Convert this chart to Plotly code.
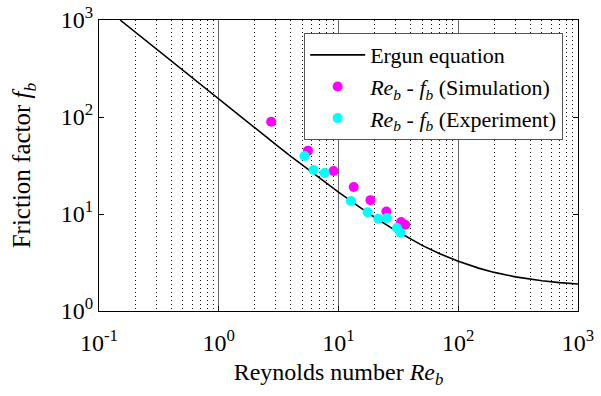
import plotly.graph_objects as go

# Ergun equation curve
ergun_re = [0.15, 0.2, 0.3, 0.4, 0.5, 0.7, 1, 1.5, 2, 3, 4, 5, 7, 10, 15, 20, 30, 40, 50, 70,
            100, 150, 200, 300, 400, 500, 700, 1000]
ergun_f = [1000, 752, 502, 377, 302, 216, 152, 102, 77, 52, 39.3, 31.8, 23.2, 16.8, 11.8, 9.25,
           6.75, 5.5, 4.75, 3.9, 3.25, 2.75, 2.5, 2.25, 2.13, 2.05, 1.96, 1.9]

# Simulation points
sim_re = [2.74, 5.56, 9.1, 13.4, 18.5, 25.1, 33.3, 36.0]
sim_f = [89.5, 45.0, 27.7, 19.0, 13.9, 10.6, 8.27, 7.76]

# Experiment points
exp_re = [5.21, 6.19, 7.65, 12.7, 17.5, 21.5, 25.4, 30.8, 32.9]
exp_f = [39.6, 28.4, 26.5, 13.6, 10.4, 8.95, 9.1, 7.17, 6.41]

tick_vals = [0.1, 1, 10, 100, 1000]
x_tick_text = ["10<sup>-1</sup>", "10<sup>0</sup>", "10<sup>1</sup>", "10<sup>2</sup>", "10<sup>3</sup>"]
y_tick_vals = [1, 10, 100, 1000]
y_tick_text = ["10<sup>0</sup>", "10<sup>1</sup>", "10<sup>2</sup>", "10<sup>3</sup>"]
minor_vals = [m * 10 ** e for e in (-1, 0, 1, 2) for m in range(2, 10)]

FONT = "Liberation Serif, Times New Roman, serif"

fig = go.Figure()
fig.add_trace(go.Scatter(x=ergun_re, y=ergun_f, mode="lines", line=dict(color="black", width=1.6),
                         name="Ergun equation"))
fig.add_trace(go.Scatter(x=sim_re, y=sim_f, mode="markers",
                         marker=dict(color="#ff00ff", size=10),
                         name="<i>Re<sub>b</sub></i> - <i>f<sub>b</sub></i> (Simulation)"))
fig.add_trace(go.Scatter(x=exp_re, y=exp_f, mode="markers",
                         marker=dict(color="#00ffff", size=10),
                         name="<i>Re<sub>b</sub></i> - <i>f<sub>b</sub></i> (Experiment)"))

fig.update_layout(
    width=601, height=396,
    margin=dict(l=99, r=23, t=20, b=85),
    paper_bgcolor="white", plot_bgcolor="white",
    font=dict(family=FONT, size=24, color="black"),
    showlegend=True,
    legend=dict(x=0.969, y=0.955, xanchor="right", yanchor="top",
                bgcolor="white", bordercolor="#555", borderwidth=1,
                font=dict(family=FONT, size=22), itemwidth=55,
                tracegroupgap=0),
)
fig.update_xaxes(
    type="log", range=[-1, 3], automargin=False,
    tickvals=tick_vals, ticktext=x_tick_text, tickfont=dict(size=24),
    ticklabelstandoff=10,
    showline=True, linecolor="black", linewidth=1.2, mirror=True,
    ticks="inside", ticklen=5, tickcolor="black",
    showgrid=True, gridcolor="#666", gridwidth=1,
    minor=dict(showgrid=True, gridcolor="#111", griddash="1px,3px", gridwidth=1,
               tickvals=minor_vals),
    zeroline=False,
    title=dict(text="Reynolds number <i>Re<sub>b</sub></i>", font=dict(size=24), standoff=8),
)
fig.update_yaxes(
    type="log", range=[0, 3], automargin=False,
    tickvals=y_tick_vals, ticktext=y_tick_text, tickfont=dict(size=24),
    showline=True, linecolor="black", linewidth=1.2, mirror="allticks",
    ticks="inside", ticklen=5, tickcolor="black",
    showgrid=False, zeroline=False,
    title=dict(text="Friction factor <i>f<sub>b</sub></i>", font=dict(size=25), standoff=22),
)

fig.write_html("out.html", config={"displayModeBar": False},
               post_script="document.body.style.margin='0';document.body.style.overflow='hidden';")
